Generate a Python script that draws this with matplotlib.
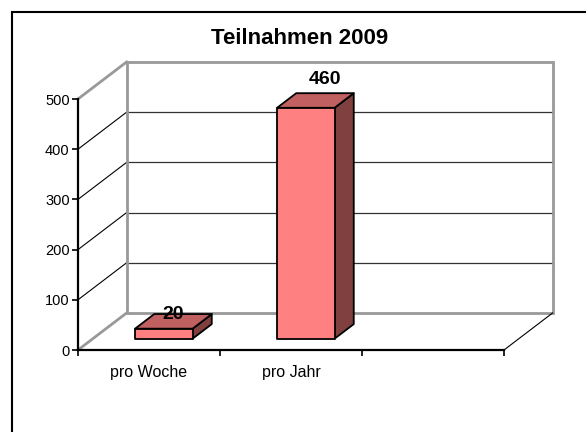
import matplotlib
matplotlib.use("Agg")
import matplotlib.pyplot as plt
from matplotlib.patches import Polygon, Rectangle
from matplotlib.transforms import offset_copy

# -------------------------
# Data
# -------------------------
title = "Teilnahmen 2009"
categories = ["pro Woche", "pro Jahr", ""]
values = [20, 460]
y_ticks = [0, 100, 200, 300, 400, 500]

# -------------------------
# Style / geometry
# -------------------------
plt.rcParams["font.family"] = ["Liberation Sans", "DejaVu Sans"]

front_col = "#FF8080"
top_col = "#C06060"
side_col = "#804040"
wall_col = "#999999"

# depth offset of the back wall in data units (x: categories, y: values)
DEPTH_X = 0.342
DEPTH_Y = 73.7
bar_d0, bar_d1 = 0.305, 0.70
bar_w = 0.405
# value label nudges in pixels (Excel places them a bit irregularly)
label_dx = [0, 10]
label_dy = [6.5, 21.5]


def proj(x, y, d):
    return (x + d * DEPTH_X, y + d * DEPTH_Y)


fig = plt.figure(figsize=(5.86, 4.32), dpi=100)
ax = fig.add_axes([78 / 586, 82 / 432, 426 / 586, 251 / 432])
ax.set_xlim(0, 3)
ax.set_ylim(0, 500)
ax.patch.set_visible(False)

# outer chart border
fig.patches.append(Rectangle((12 / 586, -0.1), 1.2, (420 / 432) + 0.1,
                             transform=fig.transFigure, fill=False,
                             edgecolor="black", linewidth=1.5))

# back wall + gridlines
n = len(categories)
for v in y_ticks[1:-1]:
    ax.plot(*zip(proj(0, v, 1), proj(n, v, 1)), color="#333333", lw=0.9,
            clip_on=False, zorder=1)
    ax.plot(*zip(proj(0, v, 0), proj(0, v, 1)), color="black", lw=0.8,
            clip_on=False, zorder=1)
ax.add_patch(Polygon([proj(0, 0, 1), proj(n, 0, 1), proj(n, 500, 1), proj(0, 500, 1)],
                     closed=True, fill=False, edgecolor=wall_col, lw=2,
                     clip_on=False, zorder=1.5))
for v in [0, 500]:
    ax.plot(*zip(proj(0, v, 0), proj(0, v, 1)), color=wall_col, lw=2,
            clip_on=False, zorder=1.5)
ax.plot(*zip(proj(n, 0, 0), proj(n, 0, 1)), color="black", lw=0.8,
        clip_on=False, zorder=1.5)

# 3D bars
for i, v in enumerate(values):
    cx = i + 0.5
    x0, x1 = cx - bar_w / 2, cx + bar_w / 2
    front = [proj(x0, 0, bar_d0), proj(x1, 0, bar_d0), proj(x1, v, bar_d0), proj(x0, v, bar_d0)]
    top = [proj(x0, v, bar_d0), proj(x1, v, bar_d0), proj(x1, v, bar_d1), proj(x0, v, bar_d1)]
    side = [proj(x1, 0, bar_d0), proj(x1, 0, bar_d1), proj(x1, v, bar_d1), proj(x1, v, bar_d0)]
    for pts, c in [(side, side_col), (top, top_col), (front, front_col)]:
        ax.add_patch(Polygon(pts, closed=True, facecolor=c, edgecolor="black",
                             lw=1.3, joinstyle="round", clip_on=False, zorder=3))
    lx, ly = proj(cx, v, 0.5)
    tf = offset_copy(ax.transData, fig=fig, x=label_dx[i], y=label_dy[i], units="dots")
    ax.text(lx, ly, str(v), transform=tf, ha="center", va="center", fontsize=14,
            fontweight="bold", zorder=4, clip_on=False)

# axes
for s in ["top", "right"]:
    ax.spines[s].set_visible(False)
for s in ["left", "bottom"]:
    ax.spines[s].set_linewidth(1.6)
    ax.spines[s].set_color("black")
    ax.spines[s].set_zorder(2)

ax.set_yticks(y_ticks)
ax.tick_params(axis="y", length=4, width=1.2, pad=2, labelsize=10.5)
ax.set_xticks(range(n + 1))
ax.set_xticklabels([])
ax.tick_params(axis="x", which="major", length=4, width=1.2)
ax.set_xticks([i + 0.5 for i in range(n)], categories, minor=True)
ax.tick_params(axis="x", which="minor", length=0, pad=10.5, labelsize=11.5)

fig.text(300 / 586, 1 - 38 / 432, title, ha="center", va="center",
         fontsize=16, fontweight="bold")

fig.savefig("out.png", dpi=100)
